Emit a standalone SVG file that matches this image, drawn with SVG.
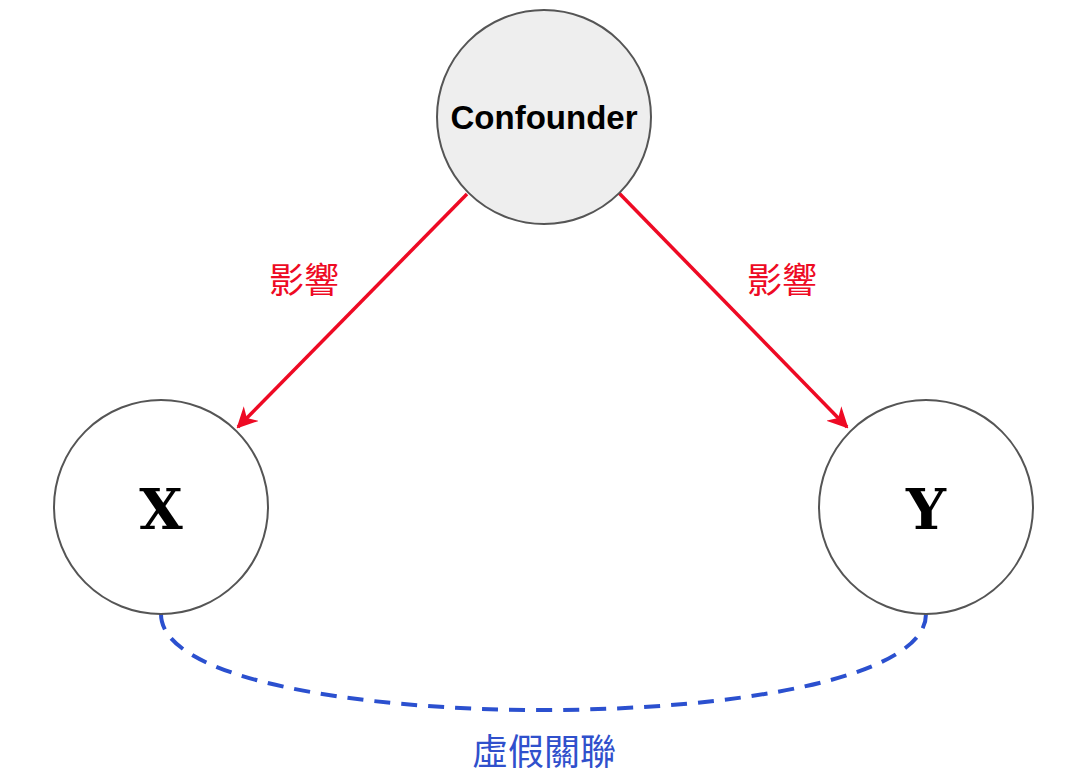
<svg xmlns="http://www.w3.org/2000/svg" width="1091" height="778" viewBox="0 0 1091 778">
<defs>
<style>
.node{stroke:#555555;stroke-width:2}
.red{stroke:#ee0a24;stroke-width:3.5;fill:none}
.lbl{font-family:"Liberation Sans","Noto Sans CJK TC",sans-serif;fill:#ee0a24;font-size:35px;text-anchor:middle}
.big{font-family:"DejaVu Serif",serif;font-weight:bold;font-size:56px;text-anchor:middle;fill:#000}
</style>
<marker id="arr" viewBox="0 0 10 10" refX="9" refY="5" markerWidth="6" markerHeight="6" markerUnits="strokeWidth" orient="auto">
<path d="M0,0 L10,5 L0,10 L3,5 Z" fill="#ee0a24"/>
</marker>
</defs>
<rect width="1091" height="778" fill="#ffffff"/>
<g id="connectors">
<line class="red" x1="467" y1="194" x2="238" y2="427" marker-end="url(#arr)"/>
<line class="red" x1="618" y1="192" x2="847" y2="427" marker-end="url(#arr)"/>
<path d="M161,614 C161,742 926,742 926,614" fill="none" stroke="#2b50cf" stroke-width="4" stroke-dasharray="16,11"/>
<text class="lbl" x="304" y="293">影響</text>
<text class="lbl" x="782" y="293">影響</text>
<text x="544" y="765" font-family="Liberation Sans,'Noto Sans CJK TC',sans-serif" font-size="36" fill="#3050cc" text-anchor="middle">虛假關聯</text>
</g>
<g id="confounder">
<circle class="node" cx="544" cy="117" r="107" fill="#eeeeee"/>
<text x="544" y="129" font-family="Liberation Sans,Arial,sans-serif" font-weight="bold" font-size="33" text-anchor="middle" fill="#000">Confounder</text>
</g>
<g id="x">
<circle class="node" cx="161" cy="507" r="107" fill="#ffffff"/>
<text class="big" x="161" y="529">X</text>
</g>
<g id="y">
<circle class="node" cx="926" cy="507" r="107" fill="#ffffff"/>
<text class="big" x="926" y="529">Y</text>
</g>
</svg>
